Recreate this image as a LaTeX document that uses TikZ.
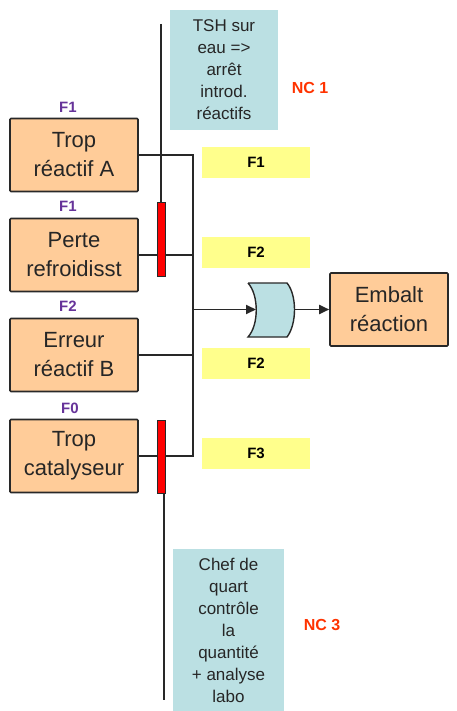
\documentclass[tikz,border=0pt]{standalone}
\usepackage{fontspec}
\setmainfont{Liberation Sans}
\usetikzlibrary{arrows.meta}
\definecolor{boxfill}{RGB}{255,204,153}
\definecolor{notefill}{RGB}{187,224,227}
\definecolor{hatchy}{RGB}{255,255,140}
\definecolor{ncred}{RGB}{255,51,0}
\definecolor{fpurple}{RGB}{102,51,153}
\definecolor{linec}{RGB}{40,40,40}
\begin{document}
\begin{tikzpicture}[x=1pt,y=-1pt,
  evbox/.style={draw=linec, line width=1.6pt, fill=boxfill, rounded corners=1pt, minimum width=128pt, minimum height=73pt, inner sep=0pt, align=center, font=\fontsize{22}{29}\selectfont, text=black!85},
  note/.style={fill=notefill, inner sep=0pt, align=center, font=\fontsize{17}{22}\selectfont, text=black!85},
  freq/.style={fill=hatchy, minimum width=108pt, minimum height=31pt, inner sep=0pt, font=\bfseries\fontsize{15}{18}\selectfont},
  flab/.style={text=fpurple, font=\bfseries\fontsize{15}{18}\selectfont, inner sep=0pt},
  nc/.style={text=ncred, font=\bfseries\fontsize{16}{18}\selectfont, inner sep=0pt},
  barrier/.style={draw=linec, line width=1pt, fill=red, minimum width=8pt, inner sep=0pt},
  conn/.style={draw=linec, line width=1.8pt},
  arr/.style={conn, -{Triangle[length=10pt,width=9pt]}},
]
\useasboundingbox (0,0) rectangle (457,711);

% note boxes
\node[note, minimum width=108pt, minimum height=120pt] (n1) at (224,70) {TSH sur\\eau =>\\arrêt\\introd.\\réactifs};
\node[nc] (nc1) at (310,88) {NC 1};
\node[note, minimum width=111pt, minimum height=162pt] (n3) at (228.5,630) {Chef de\\quart\\contrôle\\la\\quantité\\+ analyse\\labo};
\node[nc] (nc3) at (322,625) {NC 3};

% frequency bands
\node[freq] (q1) at (256,162.5) {F1};
\node[freq] (q2) at (256,252.5) {F2};
\node[freq] (q3) at (256,363) {F2};
\node[freq] (q4) at (256,453) {F3};

% event boxes
\node[evbox] (b1) at (74,155) {Trop\\réactif A};
\node[evbox] (b2) at (74,255) {Perte\\refroidisst};
\node[evbox] (b3) at (74,355) {Erreur\\réactif B};
\node[evbox] (b4) at (74,456) {Trop\\catalyseur};
\node[evbox, minimum width=118pt] (emb) at (389,309.5) {Embalt\\réaction};

\node[flab] (f1) at (68,107) {F1};
\node[flab] (f2) at (68,206) {F1};
\node[flab] (f3) at (68,306) {F2};
\node[flab] (f4) at (70,408) {F0};

% bus
\coordinate (bt) at (193,155);
\coordinate (bb) at (193,456);
\coordinate (b2j) at (193,255);
\coordinate (b3j) at (193,355);
\coordinate (bm) at (193,309.5);
\draw[conn] (b1.east) -- (bt) -- (bb) -- (b4.east);
\draw[conn] (b2.east) -- (b2j);
\draw[conn] (b3.east) -- (b3j);

% barrier lines
\coordinate (top1) at (161,24);
\coordinate (bot2) at (164,700);
\node[barrier, minimum height=73pt] (r1) at (161,239.5) {};
\node[barrier, minimum height=73pt] (r2) at (161,456.5) {};
\draw[conn] (top1) -- (r1.north);
\draw[conn] (r2.south -| bot2) -- (bot2);

% gate
\draw[conn, line width=1.4pt, fill=notefill] (248,283) -- (287,283) .. controls (297,295) and (297,324) .. (287,337) -- (248,337) .. controls (259,325) and (259,295) .. (248,283);
\coordinate (gin) at (256,309.5);
\coordinate (gout) at (294.5,309.5);
\draw[arr] (bm) -- (gin);
\draw[arr] (gout) -- (emb.west);
\end{tikzpicture}
\end{document}
